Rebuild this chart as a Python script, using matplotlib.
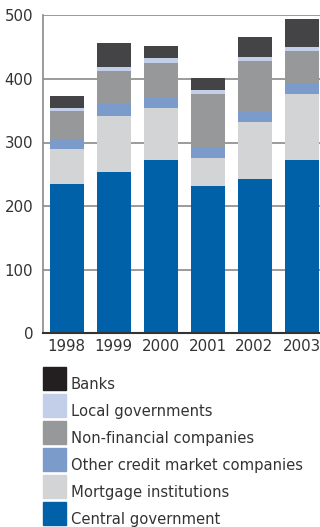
import numpy as np
import matplotlib.pyplot as plt
from matplotlib.patches import Rectangle

years = ['1998', '1999', '2000', '2001', '2002', '2003']
central = [234, 253, 273, 232, 242, 272]
mortgage = [55, 88, 81, 44, 90, 104]
other_credit = [16, 19, 16, 16, 17, 17]
non_financial = [44, 52, 55, 84, 79, 51]
local_gov = [5, 6, 8, 6, 6, 6]
banks = [19, 38, 19, 19, 32, 44]

series = [
    ('Central government', central, '#0060a8'),
    ('Mortgage institutions', mortgage, '#d3d4d6'),
    ('Other credit market companies', other_credit, '#7b9ccb'),
    ('Non-financial companies', non_financial, '#97989a'),
    ('Local governments', local_gov, '#c3cfe8'),
    ('Banks', banks, '#444446'),
]
legend_cols = {'Banks': '#231f20'}

W, H = 320, 527
fig = plt.figure(figsize=(W / 100, H / 100), dpi=100)
ax = fig.add_axes([43 / W, (H - 333.3) / H, 282 / W, 318 / H])

x = np.arange(len(years))
bottom = np.zeros(len(years))
for name, vals, col in series:
    ax.bar(x, vals, bottom=bottom, width=34 / 47, color=col, zorder=2)
    bottom += np.array(vals)

ax.set_xlim(-0.5, len(years) - 0.5)
ax.set_ylim(0, 500)
ax.set_yticks([0, 100, 200, 300, 400, 500])
ax.set_xticks(x, years)
ax.yaxis.grid(True, color='#8a8a8a', lw=1.2, zorder=0)
ax.tick_params(length=0, labelsize=10.8, labelcolor='#333333', pad=4)
ax.tick_params(axis='y', pad=7)
for s in ['top', 'right']:
    ax.spines[s].set_visible(False)
ax.spines['left'].set_color('#8a8a8a')
ax.spines['left'].set_linewidth(1.2)
ax.spines['bottom'].set_color('#333333')
ax.spines['bottom'].set_linewidth(1.5)

# legend, stacked top-down in reverse order
y0 = 367
for i, (name, vals, col) in enumerate(series[::-1]):
    top = y0 + i * 27
    c = legend_cols.get(name, col)
    fig.patches.append(Rectangle((43 / W, 1 - (top + 23) / H), 23 / W, 23 / H,
                                 transform=fig.transFigure, color=c))
    fig.text(71 / W, 1 - (top + 22) / H, name, fontsize=10.6, color='#333333',
             va='baseline', ha='left')

fig.savefig('out.png', dpi=100)
